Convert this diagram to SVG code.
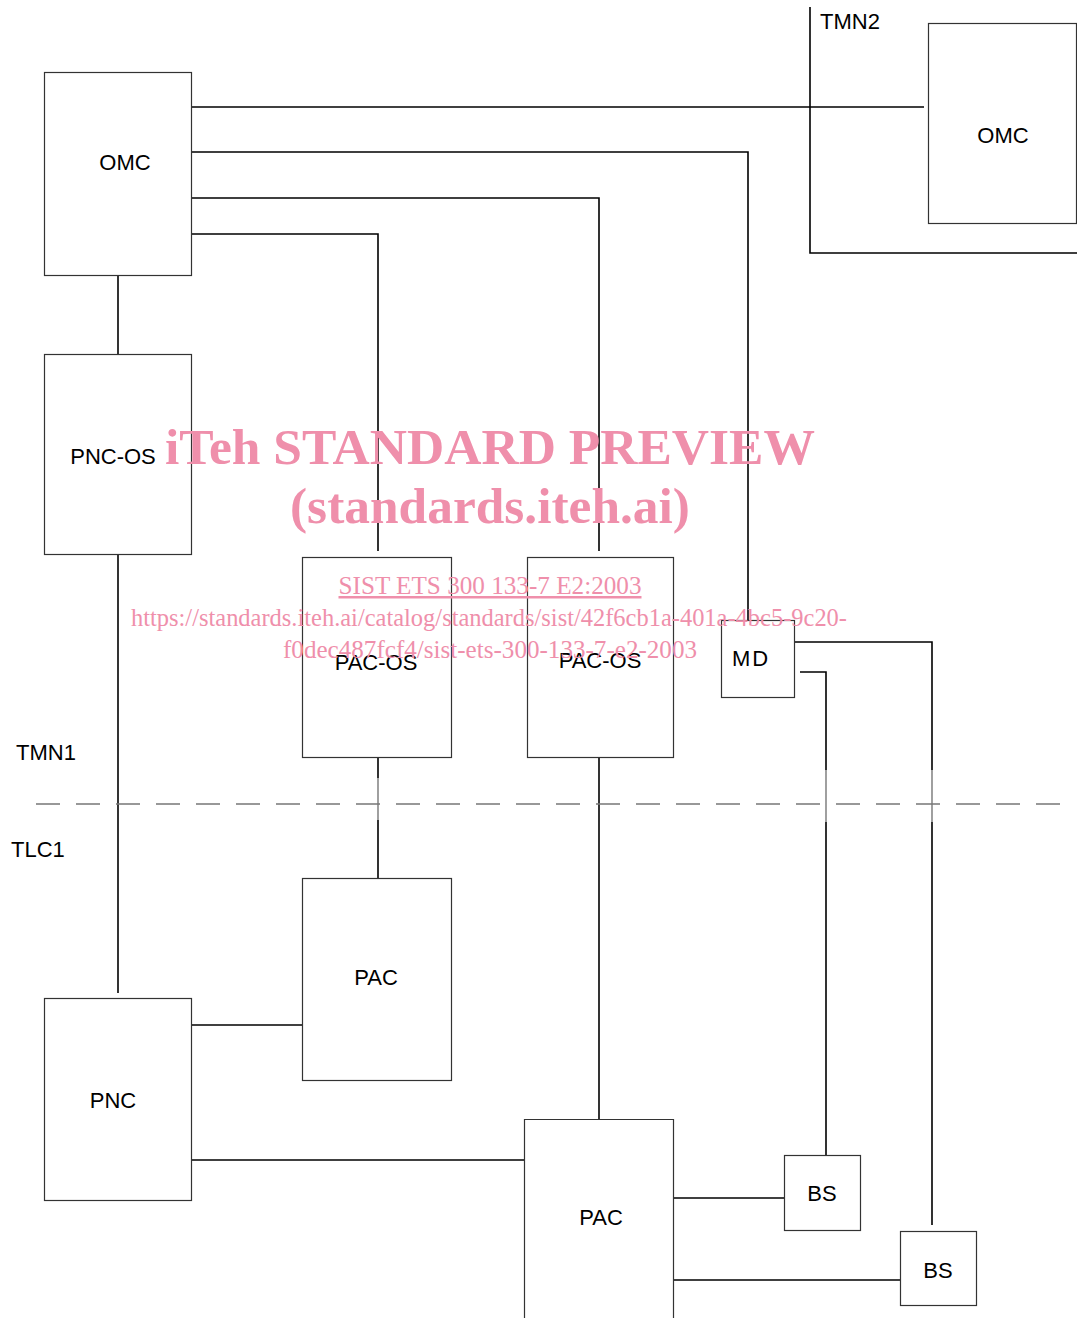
<svg xmlns="http://www.w3.org/2000/svg" width="1077" height="1318" viewBox="0 0 1077 1318">
<style>
.box{fill:#fff;stroke:#333;stroke-width:1.2}
.lbl{font-family:"Liberation Sans",Arial,sans-serif;font-size:22px;fill:#000;text-anchor:middle}
.side{font-family:"Liberation Sans",Arial,sans-serif;font-size:22px;fill:#000}
.c{fill:none;stroke:#000;stroke-width:1.6}
.g{fill:none;stroke:#888;stroke-width:1.6}
.wm{font-family:"Liberation Serif","Times New Roman",serif;fill:#ef8fab;text-anchor:middle}
</style>
<rect width="1077" height="1318" fill="#fff"/>
<g id="connectors">
<path class="c" d="M810 7V253H1077"/>
<path class="c" d="M191 107H924"/>
<path class="c" d="M191 152H748V620"/>
<path class="c" d="M191 198H599V551"/>
<path class="c" d="M191 234H378V551"/>
<path class="c" d="M118 275V354"/>
<path class="c" d="M118 554V993"/>
<path class="c" d="M378 757V778M378 820V878"/>
<path class="g" d="M378 778V820"/>
<path class="c" d="M599 757V1119"/>
<path class="c" d="M794 642H932V770M932 822V1225"/>
<path class="g" d="M932 770V822"/>
<path class="c" d="M800 672H826V770M826 822V1155"/>
<path class="g" d="M826 770V822"/>
<path class="c" d="M191 1025H302"/>
<path class="c" d="M191 1160H524"/>
<path class="c" d="M673 1198H784"/>
<path class="c" d="M673 1280H900"/>
<path d="M36 804H1062" stroke="#777" stroke-width="1.6" stroke-dasharray="24 16" fill="none"/>
</g>
<g id="omc1"><rect class="box" x="44.5" y="72.5" width="147" height="203"/><text class="lbl" x="125" y="170">OMC</text></g>
<g id="omc2"><rect class="box" x="928.5" y="23.5" width="148" height="200"/><text class="lbl" x="1003" y="143">OMC</text></g>
<g id="tmn2"><text class="side" x="820" y="29">TMN2</text></g>
<g id="pncos"><rect class="box" x="44.5" y="354.5" width="147" height="200"/><text class="lbl" x="113" y="464">PNC-OS</text></g>
<g id="pacos1"><rect class="box" x="302.5" y="557.5" width="149" height="200"/><text class="lbl" x="376" y="670">PAC-OS</text></g>
<g id="pacos2"><rect class="box" x="527.5" y="557.5" width="146" height="200"/><text class="lbl" x="600" y="668">PAC-OS</text></g>
<g id="md"><rect class="box" x="721.5" y="620.5" width="73" height="77"/><text class="lbl" x="751" y="666" letter-spacing="2">MD</text></g>
<g id="tmn1"><text class="side" x="16" y="760">TMN1</text></g>
<g id="tlc1"><text class="side" x="11" y="857">TLC1</text></g>
<g id="pac1"><rect class="box" x="302.5" y="878.5" width="149" height="202"/><text class="lbl" x="376" y="985">PAC</text></g>
<g id="pnc"><rect class="box" x="44.5" y="998.5" width="147" height="202"/><text class="lbl" x="113" y="1108">PNC</text></g>
<g id="pac2"><path class="box" d="M524.5 1318V1119.5H673.5V1318"/><text class="lbl" x="601" y="1225">PAC</text></g>
<g id="bs1"><rect class="box" x="784.5" y="1155.5" width="76" height="75"/><text class="lbl" x="822" y="1201">BS</text></g>
<g id="bs2"><rect class="box" x="900.5" y="1231.5" width="76" height="74"/><text class="lbl" x="938" y="1278">BS</text></g>
<g id="watermark">
<text class="wm" x="490" y="464" font-size="50" font-weight="bold" textLength="650" lengthAdjust="spacingAndGlyphs">iTeh STANDARD PREVIEW</text>
<text class="wm" x="490" y="523" font-size="50" font-weight="bold" textLength="400" lengthAdjust="spacingAndGlyphs">(standards.iteh.ai)</text>
<text class="wm" x="490" y="594" font-size="25" text-decoration="underline" textLength="303" lengthAdjust="spacingAndGlyphs">SIST ETS 300 133-7 E2:2003</text>
<text class="wm" x="489" y="626" font-size="25" textLength="716" lengthAdjust="spacingAndGlyphs">https://standards.iteh.ai/catalog/standards/sist/42f6cb1a-401a-4bc5-9c20-</text>
<text class="wm" x="490" y="658" font-size="25" textLength="414" lengthAdjust="spacingAndGlyphs">f0dec487fcf4/sist-ets-300-133-7-e2-2003</text>
</g>
</svg>
